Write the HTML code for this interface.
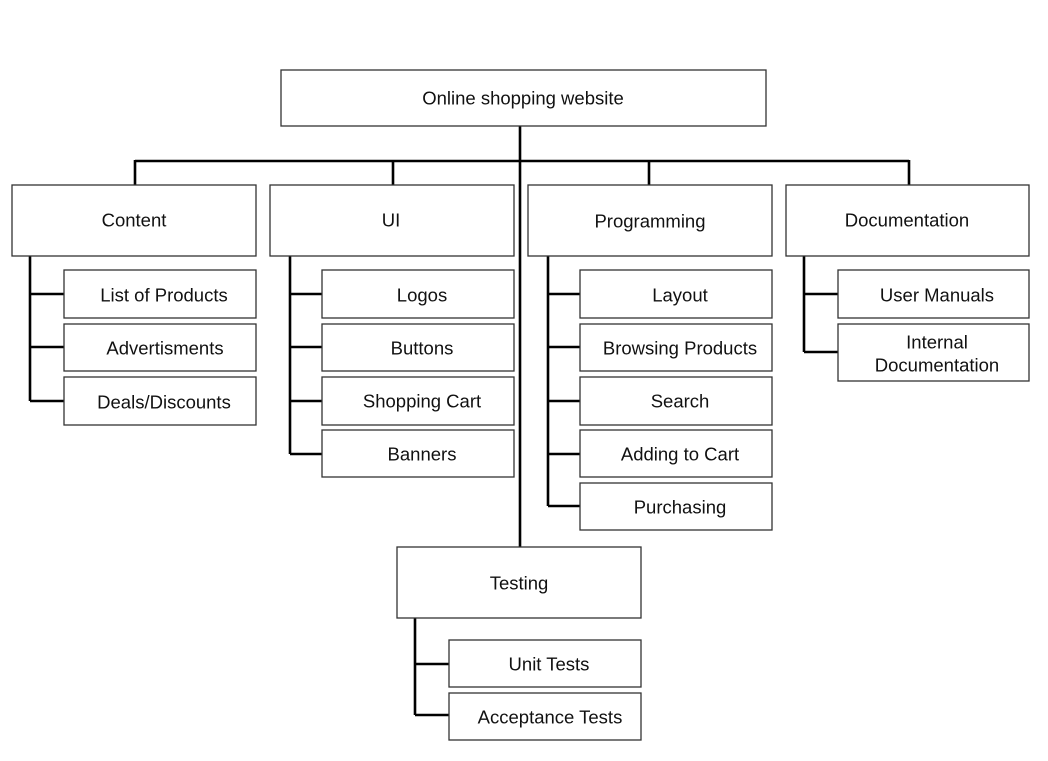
<!DOCTYPE html>
<html><head><meta charset="utf-8"><style>
html,body{margin:0;padding:0;background:#fff;}
svg{display:block;}
text{font-family:"Liberation Sans",Arial,sans-serif;font-size:18.5px;fill:#111;text-anchor:middle;dominant-baseline:central;}
.b{fill:#fff;stroke:#333;stroke-width:1.3;}
.l{stroke:#000;stroke-width:2.6;fill:none;}
</style></head><body>
<svg width="1048" height="761" viewBox="0 0 1048 761">
<path class="l" d="M520 126V547 M135 161H909 M135 160V185 M393 160V185 M649 160V185 M909 160V185"/>
<path class="l" d="M30 256V401 M30 294H64 M30 347H64 M30 401H64"/>
<path class="l" d="M290 256V454 M290 294H322 M290 347H322 M290 401H322 M290 454H322"/>
<path class="l" d="M548 256V506 M548 294H580 M548 347H580 M548 401H580 M548 454H580 M548 506H580"/>
<path class="l" d="M804 256V352 M804 294H838 M804 352H838"/>
<path class="l" d="M415 618V715 M415 664H449 M415 715H449"/>
<rect class="b" x="281" y="70" width="485" height="56"/><text x="523" y="98">Online shopping website</text>
<rect class="b" x="12" y="185" width="244" height="71"/><text x="134" y="220">Content</text>
<rect class="b" x="270" y="185" width="244" height="71"/><text x="391" y="220">UI</text>
<rect class="b" x="528" y="185" width="244" height="71"/><text x="650" y="221">Programming</text>
<rect class="b" x="786" y="185" width="243" height="71"/><text x="907" y="220">Documentation</text>
<rect class="b" x="397" y="547" width="244" height="71"/><text x="519" y="583">Testing</text>
<rect class="b" x="64" y="270" width="192" height="48"/><text x="164" y="295">List of Products</text>
<rect class="b" x="64" y="324" width="192" height="47"/><text x="165" y="348">Advertisments</text>
<rect class="b" x="64" y="377" width="192" height="48"/><text x="164" y="402">Deals/Discounts</text>
<rect class="b" x="322" y="270" width="192" height="48"/><text x="422" y="295">Logos</text>
<rect class="b" x="322" y="324" width="192" height="47"/><text x="422" y="348">Buttons</text>
<rect class="b" x="322" y="377" width="192" height="48"/><text x="422" y="401">Shopping Cart</text>
<rect class="b" x="322" y="430" width="192" height="47"/><text x="422" y="454">Banners</text>
<rect class="b" x="580" y="270" width="192" height="48"/><text x="680" y="295">Layout</text>
<rect class="b" x="580" y="324" width="192" height="47"/><text x="680" y="348">Browsing Products</text>
<rect class="b" x="580" y="377" width="192" height="48"/><text x="680" y="401">Search</text>
<rect class="b" x="580" y="430" width="192" height="47"/><text x="680" y="454">Adding to Cart</text>
<rect class="b" x="580" y="483" width="192" height="47"/><text x="680" y="507">Purchasing</text>
<rect class="b" x="838" y="270" width="191" height="48"/><text x="937" y="295">User Manuals</text>
<rect class="b" x="838" y="324" width="191" height="57"/><text x="937" y="342">Internal</text><text x="937" y="365">Documentation</text>
<rect class="b" x="449" y="640" width="192" height="47"/><text x="549" y="664">Unit Tests</text>
<rect class="b" x="449" y="693" width="192" height="47"/><text x="550" y="717">Acceptance Tests</text>
</svg>
</body></html>
